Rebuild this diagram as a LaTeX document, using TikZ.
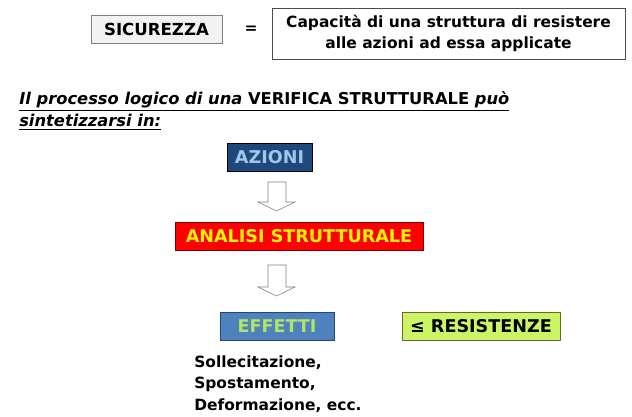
\documentclass[tikz,border=0pt]{standalone}
\usepackage{fontspec}
\setmainfont{DejaVu Sans}
\usetikzlibrary{arrows.meta, positioning}

\definecolor{bluscuro}{RGB}{31,73,125}
\definecolor{bluchiaro}{RGB}{160,198,236}
\definecolor{blumedio}{RGB}{79,129,189}
\definecolor{verdino}{RGB}{175,228,100}
\definecolor{giallov}{RGB}{204,245,102}
\definecolor{grigioc}{RGB}{242,242,242}

\begin{document}
\begin{tikzpicture}[
        x=0.025cm, y=-0.025cm,
        txt/.style={font=\bfseries\fontsize{11}{15.3}\selectfont},
        box/.style={draw, font=\bfseries\fontsize{12.5}{15}\selectfont, inner sep=0pt, minimum height=0.7cm},
        freccia/.style={draw=gray, fill=white, line join=miter}
    ]
        \useasboundingbox (0,0) rectangle (632,416);

        % definizione
        \node[box, draw=gray, fill=grigioc, minimum width=3.275cm,
              font=\bfseries\fontsize{11.8}{14}\selectfont] (sic) at (156.5,29) {SICUREZZA};
        \node[txt] (uguale) at (251,30) {=};
        \node[box, txt, draw=black!70, minimum width=8.825cm, minimum height=1.275cm,
              align=center] (def) at (448.5,33.5)
              {Capacità di una struttura di resistere\\alle azioni ad essa applicate};

        % titolo
        \node[txt, font=\bfseries\fontsize{11.6}{16}\selectfont, anchor=north west,
              align=left, inner sep=0pt] (titolo) at (19,91)
              {\underline{\itshape Il processo logico di una \upshape VERIFICA STRUTTURALE \itshape può}\\
               \underline{\itshape sintetizzarsi in:}};

        % schema
        \node[box, fill=bluscuro, text=bluchiaro, minimum width=2.125cm] (azioni) at (269.5,157) {AZIONI};
        \draw[freccia] (268,182) -- (286,182) -- (286,202) -- (295,202) -- (276.5,211)
                       -- (258,202) -- (268,202) -- cycle;
        \node[box, fill=red, draw=red!50!black, text=yellow, minimum width=6.2cm] (analisi) at (299,236) {ANALISI STRUTTURALE};
        \draw[freccia] (268,265) -- (286,265) -- (286,287) -- (295,287) -- (276.5,296)
                       -- (258,287) -- (268,287) -- cycle;
        \node[box, fill=blumedio, draw=bluscuro, text=verdino, minimum width=2.85cm] (effetti) at (277,326.5) {EFFETTI};
        \node[box, fill=giallov, draw=olive!70!black, minimum width=3.95cm] (resist) at (481,326.5) {≤ RESISTENZE};

        % effetti
        \node[txt, anchor=north west, align=left, inner sep=0pt] (lista) at (194,355)
              {Sollecitazione,\\Spostamento,\\Deformazione, ecc.};

    \end{tikzpicture}
\end{document}
